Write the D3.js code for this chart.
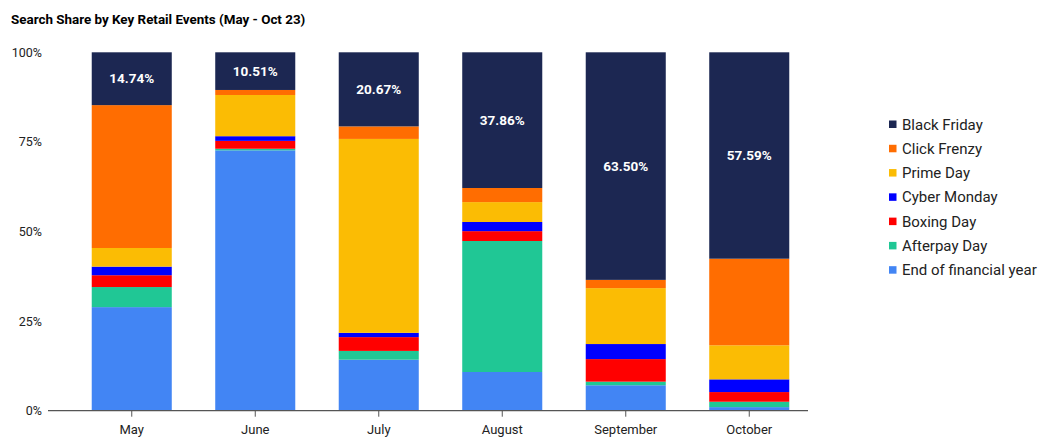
<!DOCTYPE html>
<html>
<head>
<meta charset="utf-8">
<script src="https://cdn.jsdelivr.net/npm/d3@7"></script>
<style>
  body { margin: 0; background: #fff; font-family: Roboto, "Noto Sans", sans-serif; }
  svg text { font-family: Roboto, "Noto Sans", sans-serif; }
</style>
</head>
<body>
<div id="chart"></div>
<script>
// Дані (частки у %)
const months = ["May", "June", "July", "August", "September", "October"];
const seriesNames = ["Black Friday", "Click Frenzy", "Prime Day", "Cyber Monday", "Boxing Day", "Afterpay Day", "End of financial year"];
const seriesColors = ["#1c2752", "#ff6d01", "#fbbc04", "#0000ff", "#ff0000", "#20c795", "#4285f4"];

const blackFriday = [14.74, 10.51, 20.67, 37.86, 63.50, 57.59];
const clickFrenzy = [39.86, 1.4, 3.5, 3.94, 2.3, 24.16];
const primeDay    = [5.2, 11.5, 54.1, 5.55, 15.6, 9.5];
const cyberMonday = [2.4, 1.3, 1.2, 2.55, 4.2, 3.55];
const boxingDay   = [3.3, 2.2, 3.85, 2.75, 6.3, 2.7];
const afterpayDay = [5.6, 0.45, 2.45, 36.55, 1.0, 1.5];
const endOfFY     = [28.9, 72.64, 14.23, 10.8, 7.1, 1.0];

const yTicks = [0, 25, 50, 75, 100];

const seriesValues = [blackFriday, clickFrenzy, primeDay, cyberMonday, boxingDay, afterpayDay, endOfFY];

// таблиця для d3.stack
const table = months.map((m, i) => {
    const row = {month: m};
    seriesNames.forEach((s, k) => { row[s] = seriesValues[k][i]; });
    return row;
});

const W = 1045, H = 448;
const svg = d3.select("#chart").append("svg").attr("width", W).attr("height", H);

svg.append("text").attr("x", 11).attr("y", 24)
    .attr("font-size", 13.4).attr("font-weight", "bold").attr("fill", "#000")
    .text("Search Share by Key Retail Events (May - Oct 23)");

const x = d3.scaleBand().domain(months).range([70, 811]).paddingInner(0.352).paddingOuter(0.176);
const y = d3.scaleLinear().domain([0, 100]).range([410.7, 52.3]);

// стек знизу вгору: End of FY внизу, Black Friday зверху
const order = seriesNames.slice().reverse();
const stacked = d3.stack().keys(order)(table);
const color = d3.scaleOrdinal().domain(seriesNames).range(seriesColors);

const layers = svg.append("g").selectAll("g").data(stacked).enter().append("g")
    .attr("fill", d => color(d.key));
layers.selectAll("rect").data(d => d).enter().append("rect")
    .attr("x", d => x(d.data.month))
    .attr("width", x.bandwidth())
    .attr("y", d => y(d[1]))
    .attr("height", d => y(d[0]) - y(d[1]));

// Підписи Black Friday
const bfLayer = stacked.find(s => s.key === "Black Friday");
svg.append("g").selectAll("text").data(bfLayer).enter().append("text")
    .attr("x", d => x(d.data.month) + x.bandwidth() / 2)
    .attr("y", d => (y(d[0]) + y(d[1])) / 2)
    .attr("dy", "0.35em")
    .attr("text-anchor", "middle")
    .attr("font-size", 13.5).attr("font-weight", "bold").attr("fill", "#fff")
    .text(d => d.data["Black Friday"].toFixed(2) + "%");

// Вісь Y (лише підписи)
const yAxis = svg.append("g").attr("transform", "translate(42,0)")
    .call(d3.axisLeft(y).tickValues(yTicks).tickFormat(d => d + "%").tickSize(0).tickPadding(0));
yAxis.select(".domain").remove();
yAxis.selectAll("text").attr("font-size", 12.5).attr("fill", "#222");

// Вісь X
const xAxis = svg.append("g").attr("transform", "translate(0,410.7)")
    .call(d3.axisBottom(x).tickSize(6).tickPadding(8).tickSizeOuter(0));
xAxis.select(".domain").remove();
xAxis.selectAll(".tick line").attr("stroke", "#555");
xAxis.selectAll("text").attr("font-size", 13).attr("fill", "#222");
svg.append("line").attr("x1", 48).attr("x2", 808).attr("y1", 410.7).attr("y2", 410.7)
    .attr("stroke", "#555").attr("stroke-width", 1.2);

// Легенда
const legend = svg.append("g").selectAll("g").data(seriesNames).enter().append("g")
    .attr("transform", (d, i) => `translate(889,${124.3 + i * 24.28})`);
legend.append("rect").attr("x", 0).attr("y", -3.8).attr("width", 7.5).attr("height", 7.5)
    .attr("fill", d => color(d));
legend.append("text").attr("x", 13).attr("dy", "0.35em")
    .attr("font-size", 15).attr("fill", "#222").text(d => d);
</script>
</body>
</html>
